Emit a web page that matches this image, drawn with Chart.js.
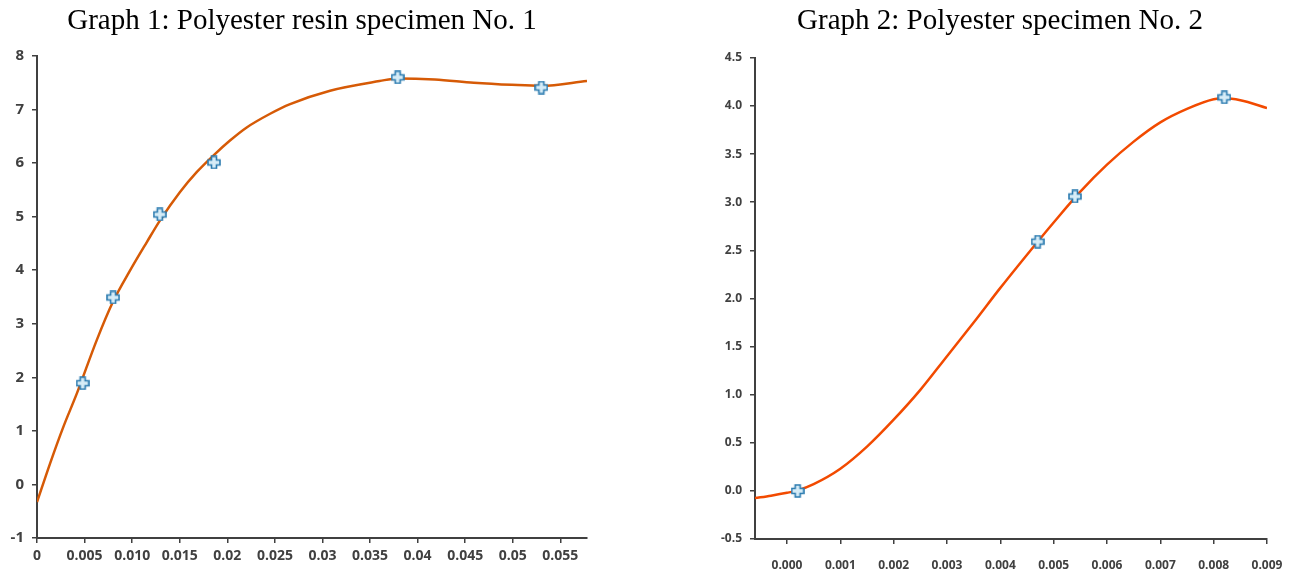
<!DOCTYPE html>
<html>
<head>
<meta charset="utf-8">
<script src="https://cdn.jsdelivr.net/npm/chart.js@4.4.1/dist/chart.umd.min.js"></script>
<style>
  body { margin: 0; background: #fff; }
  .box { position: absolute; top: 0; height: 572px; }
</style>
</head>
<body>
<div class="box" style="left:0;width:604px"><canvas id="graf1"></canvas></div>
<div class="box" style="left:707px;width:586px"><canvas id="graf2"></canvas></div>
<script>
// graph 1 - resin specimen 1
var pts1X = [0.0048, 0.0080, 0.0129, 0.0186, 0.0379, 0.0530];
var pts1Y = [1.89, 3.49, 5.04, 6.01, 7.6, 7.41];
var fit1X = [0, 0.00137, 0.00276, 0.00417, 0.00627, 0.00796, 0.00977, 0.01153, 0.01293, 0.01503, 0.01678, 0.01853, 0.02028, 0.022, 0.0245, 0.0266, 0.0308, 0.036, 0.0379, 0.0418, 0.0459, 0.0499, 0.053, 0.0578];
var fit1Y = [-0.33, 0.39, 1.07, 1.69, 2.69, 3.40, 3.99, 4.52, 4.93, 5.46, 5.83, 6.14, 6.42, 6.66, 6.92, 7.1, 7.35, 7.53, 7.58, 7.56, 7.5, 7.46, 7.44, 7.53];
var ticks1X = [0, 0.005, 0.01, 0.015, 0.02, 0.025, 0.03, 0.035, 0.04, 0.045, 0.05, 0.055];
var labels1X = ['0', '0.005', '0.010', '0.015', '0.02', '0.025', '0.03', '0.035', '0.04', '0.045', '0.05', '0.055'];
var ticks1Y = [-1, 0, 1, 2, 3, 4, 5, 6, 7, 8];

// graph 2 - specimen 2
var pts2X = [0.0002, 0.0047, 0.0054, 0.0082];
var pts2Y = [0.0, 2.59, 3.06, 4.09];
var fit2X = [-0.0006, -0.0003, 0, 0.0002, 0.0005, 0.001, 0.0015, 0.002, 0.0025, 0.003, 0.0035, 0.004, 0.0047, 0.005, 0.0055, 0.006, 0.0065, 0.007, 0.0075, 0.008, 0.0082, 0.0085, 0.009];
var fit2Y = [-0.075, -0.05, -0.02, 0.005, 0.07, 0.23, 0.46, 0.74, 1.05, 1.40, 1.75, 2.11, 2.59, 2.79, 3.11, 3.39, 3.63, 3.83, 3.97, 4.07, 4.08, 4.06, 3.98];
var ticks2X = [0, 0.001, 0.002, 0.003, 0.004, 0.005, 0.006, 0.007, 0.008, 0.009];
var ticks2Y = [-0.5, 0, 0.5, 1, 1.5, 2, 2.5, 3, 3.5, 4, 4.5];

var axisGrey = '#404040';

function zip(xs, ys) {
  return xs.map(function (x, i) { return { x: x, y: ys[i] }; });
}

// excel style "plus" marker
function plusMarker() {
  var c = document.createElement('canvas');
  c.width = 14; c.height = 14;
  var g = c.getContext('2d');
  var a = 4.5, b = 9.5, lo = 1, hi = 13;
  g.beginPath();
  g.moveTo(a, lo); g.lineTo(b, lo); g.lineTo(b, a); g.lineTo(hi, a);
  g.lineTo(hi, b); g.lineTo(b, b); g.lineTo(b, hi); g.lineTo(a, hi);
  g.lineTo(a, b); g.lineTo(lo, b); g.lineTo(lo, a); g.lineTo(a, a);
  g.closePath();
  g.fillStyle = '#d6ecf7';
  g.fill();
  g.lineWidth = 1.6;
  g.strokeStyle = '#2b7bb0';
  g.stroke();
  return c;
}
var marker = plusMarker();

function makeChart(id, o) {
  return new Chart(document.getElementById(id), {
    type: 'scatter',
    data: {
      datasets: [{
        data: zip(o.px, o.py),
        pointStyle: marker,
        pointRadius: 7,
        order: 0
      }, {
        data: zip(o.fx, o.fy),
        showLine: true,
        borderColor: o.color,
        borderWidth: 2.5,
        pointRadius: 0,
        cubicInterpolationMode: 'monotone',
        order: 1
      }]
    },
    options: {
      responsive: true,
      maintainAspectRatio: false,
      animation: false,
      layout: { padding: 0 },
      plugins: {
        legend: { display: false },
        tooltip: { enabled: false },
        title: {
          display: true,
          text: o.title,
          color: '#000',
          font: { family: 'Liberation Serif', size: 29, weight: 'normal', lineHeight: 1.1 },
          padding: { top: 5, bottom: o.titleBottom }
        }
      },
      scales: {
        x: {
          type: 'linear',
          min: o.xmin,
          max: o.xmax,
          afterBuildTicks: function (s) { s.ticks = o.tx.map(function (v) { return { value: v }; }); },
          afterFit: function (s) { s.height = o.xh; s.paddingLeft = 0; s.paddingRight = 0; },
          border: { color: axisGrey, width: 2 },
          grid: { drawOnChartArea: false, color: axisGrey, lineWidth: 1.5, tickLength: 5 },
          ticks: {
            autoSkip: false,
            maxRotation: 0,
            padding: o.xpad,
            color: axisGrey,
            font: { family: 'Open Sans', size: o.xfs, weight: 'bold' },
            callback: o.xlab
          }
        },
        y: {
          min: o.ty[0],
          max: o.ty[o.ty.length - 1],
          afterBuildTicks: function (s) { s.ticks = o.ty.map(function (v) { return { value: v }; }); },
          afterFit: function (s) { s.width = o.yw; },
          border: { color: axisGrey, width: 2 },
          grid: { drawOnChartArea: false, color: axisGrey, lineWidth: 1.5, tickLength: 5 },
          ticks: {
            padding: o.ypad,
            color: axisGrey,
            font: { family: 'Open Sans', size: o.yfs, weight: 'bold' },
            callback: o.ylab
          }
        },
        // empty strip on the right so the title stays centred on the whole panel
        spare: {
          type: 'linear',
          position: 'right',
          display: true,
          afterFit: function (s) { s.width = o.padRight; },
          border: { display: false },
          grid: { display: false },
          ticks: { display: false }
        }
      }
    }
  });
}

makeChart('graf1', {
  title: 'Graph 1: Polyester resin specimen No. 1',
  px: pts1X, py: pts1Y, fx: fit1X, fy: fit1Y,
  color: '#d65a06',
  xmin: 0, xmax: 0.0578, tx: ticks1X, ty: ticks1Y,
  xlab: function (v, i) { return labels1X[i]; },
  ylab: function (v) { return String(v); },
  xh: 34, yw: 37, xpad: 5, ypad: 8, xfs: 14, yfs: 15,
  padRight: 17, titleBottom: 19
});

makeChart('graf2', {
  title: 'Graph 2: Polyester specimen No. 2',
  px: pts2X, py: pts2Y, fx: fit2X, fy: fit2Y,
  color: '#f24a00',
  xmin: -0.0006, xmax: 0.009, tx: ticks2X, ty: ticks2Y,
  xlab: function (v) { return v.toFixed(3); },
  ylab: function (v) { return v.toFixed(1); },
  xh: 33, yw: 48, xpad: 14, ypad: 8, xfs: 12, yfs: 12,
  padRight: 26, titleBottom: 21
});
</script>
</body>
</html>
